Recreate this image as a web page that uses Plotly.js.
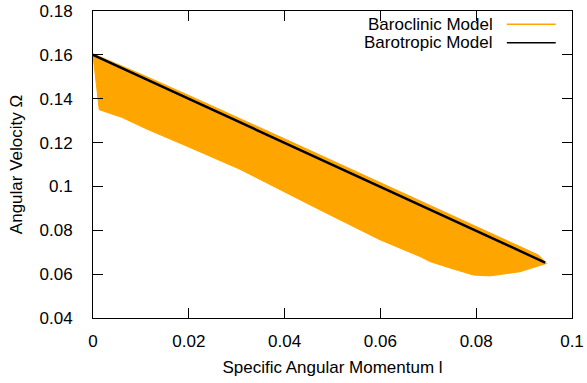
<!DOCTYPE html>
<html>
<head>
<meta charset="utf-8">
<script src="https://cdn.plot.ly/plotly-3.0.1.min.js"></script>
<style>
  html, body { margin: 0; padding: 0; background: #fff; }
  #chart { width: 587px; height: 383px; }
</style>
</head>
<body>
<div id="chart"></div>
<script>
// Barotropic model: angular velocity vs specific angular momentum
const barotropicL     = [0, 0.01, 0.02, 0.03, 0.04, 0.05, 0.06, 0.07, 0.08, 0.09, 0.0944];
const barotropicOmega = [0.16, 0.150, 0.140, 0.1299, 0.1198, 0.1098, 0.0998, 0.0897, 0.0797, 0.0697, 0.0652];

// Baroclinic model: envelope of the rotation profiles (upper and lower edge)
const baroclinicUpperL     = [0, 0.01, 0.02, 0.03, 0.04, 0.05, 0.06, 0.07, 0.08, 0.09, 0.093, 0.0947];
const baroclinicUpperOmega = [0.1605, 0.1512, 0.1415, 0.1317, 0.1217, 0.1117, 0.1017, 0.0918, 0.0818, 0.0718, 0.0687, 0.0649];
const baroclinicLowerL     = [0, 0.0013, 0.006, 0.0117, 0.02, 0.0307, 0.04, 0.0474, 0.06, 0.0683, 0.0704, 0.075, 0.0794, 0.0829, 0.0891, 0.0947];
const baroclinicLowerOmega = [0.16, 0.135, 0.1315, 0.1257, 0.1180, 0.1078, 0.0976, 0.0893, 0.0756, 0.068, 0.0657, 0.0625, 0.0596, 0.0592, 0.0611, 0.0649];

const xTicks = [0, 0.02, 0.04, 0.06, 0.08, 0.1];
const xTickText = ['0', '0.02', '0.04', '0.06', '0.08', '0.1'];
const yTicks = [0.04, 0.06, 0.08, 0.1, 0.12, 0.14, 0.16, 0.18];
const yTickText = ['0.04', '0.06', '0.08', '0.1', '0.12', '0.14', '0.16', '0.18'];

const seriesNames = ['Baroclinic Model', 'Barotropic Model'];
const orange = '#ffa500';

// closed polygon: upper edge forward, lower edge back
const polyL = baroclinicUpperL.concat(baroclinicLowerL.slice().reverse());
const polyOmega = baroclinicUpperOmega.concat(baroclinicLowerOmega.slice().reverse());

const font = { family: 'Liberation Sans, Arial, sans-serif', size: 17, color: '#000' };

const traces = [
  {
    x: polyL, y: polyOmega,
    type: 'scatter', mode: 'lines',
    fill: 'toself', fillcolor: orange,
    line: { color: orange, width: 1 },
    name: seriesNames[0], showlegend: false, hoverinfo: 'skip'
  },
  {
    x: barotropicL, y: barotropicOmega,
    type: 'scatter', mode: 'lines',
    line: { color: '#000', width: 2.5 },
    name: seriesNames[1], showlegend: false
  }
];

// key placed top-right, text right-aligned before the sample line
const keyX = 0.839, keyLine0 = 0.864, keyLine1 = 0.966;
const keyY = [0.9567, 0.8967];
const keyColors = [orange, '#000'];

const layout = {
  width: 587, height: 383,
  margin: { l: 93, r: 15, t: 11, b: 65, pad: 0 },
  paper_bgcolor: '#fff', plot_bgcolor: '#fff',
  font: font,
  showlegend: false,
  xaxis: {
    range: [0, 0.1], tickvals: xTicks, ticktext: xTickText,
    ticks: 'inside', ticklen: 10, tickcolor: '#000', tickwidth: 1,
    showline: true, linecolor: '#000', linewidth: 1, mirror: 'ticks',
    showgrid: false, zeroline: false,
    ticklabelstandoff: 8,
    title: { text: 'Specific Angular Momentum l', font: font, standoff: 10 },
    automargin: false
  },
  yaxis: {
    range: [0.04, 0.18], tickvals: yTicks, ticktext: yTickText,
    ticks: 'inside', ticklen: 10, tickcolor: '#000', tickwidth: 1,
    showline: true, linecolor: '#000', linewidth: 1, mirror: 'ticks',
    showgrid: false, zeroline: false,
    ticklabelstandoff: 16,
    title: { text: 'Angular Velocity Ω', font: font, standoff: 12 },
    automargin: false
  },
  annotations: seriesNames.map((name, i) => ({
    xref: 'paper', yref: 'paper', x: keyX, y: keyY[i],
    xanchor: 'right', yanchor: 'middle', showarrow: false,
    text: name, font: font
  })),
  shapes: seriesNames.map((name, i) => ({
    type: 'line', xref: 'paper', yref: 'paper',
    x0: keyLine0, x1: keyLine1, y0: keyY[i], y1: keyY[i],
    line: { color: keyColors[i], width: 1.5 }
  }))
};

Plotly.newPlot('chart', traces, layout, { staticPlot: true, displayModeBar: false });
</script>
</body>
</html>
